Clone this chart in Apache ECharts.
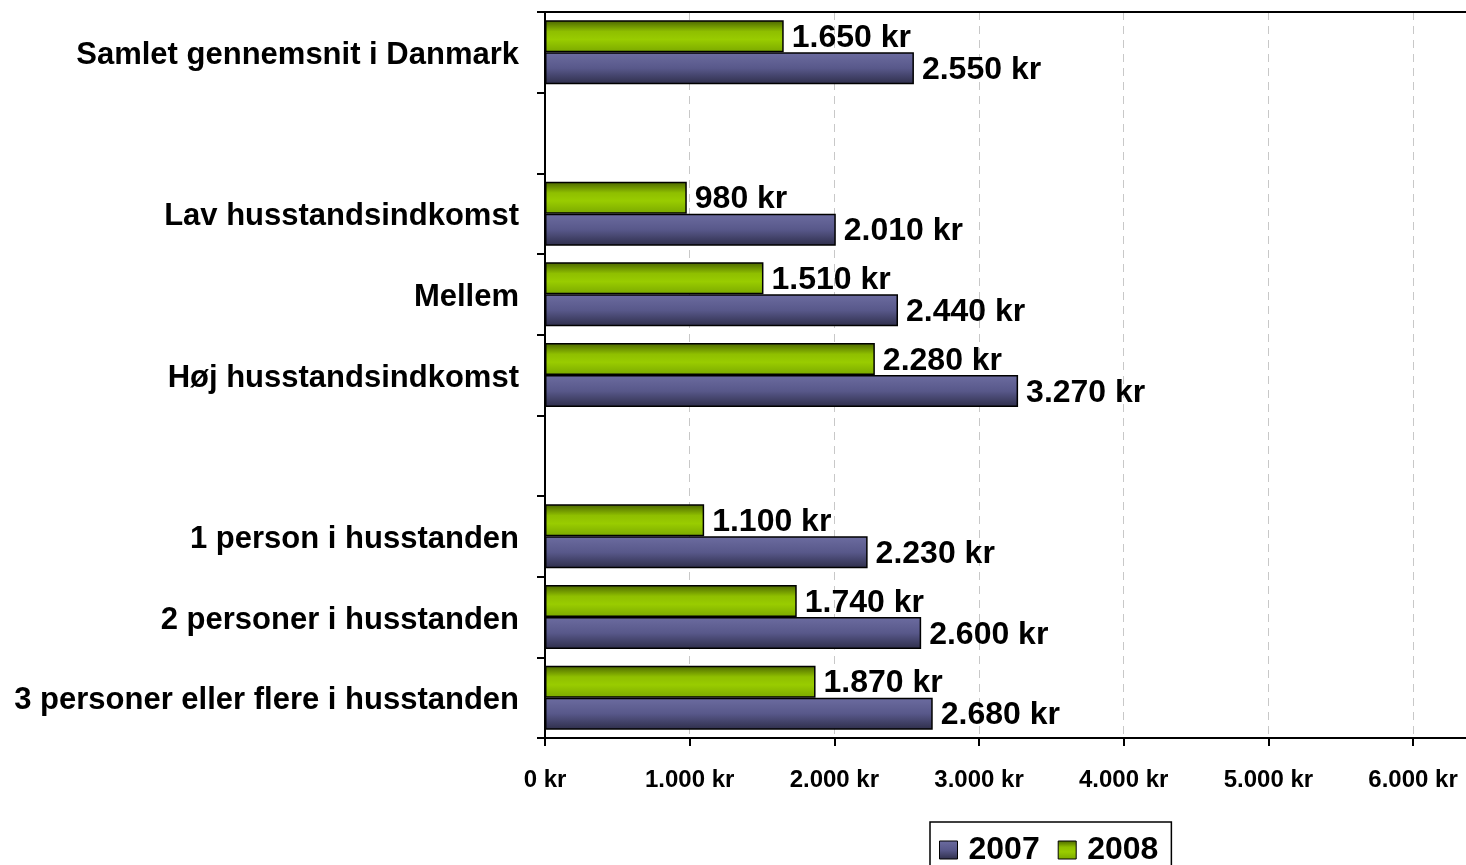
<!DOCTYPE html>
<html>
<head>
<meta charset="utf-8">
<script src="https://cdn.jsdelivr.net/npm/echarts@6/dist/echarts.min.js"></script>
<style>
html,body{margin:0;padding:0;background:#fff;}
#chart{width:1466px;height:865px;}
</style>
</head>
<body>
<div id="chart"></div>
<script>
const categories = [
  "Samlet gennemsnit i Danmark",
  "",
  "Lav husstandsindkomst",
  "Mellem",
  "Høj husstandsindkomst",
  " ",
  "1 person i husstanden",
  "2 personer i husstanden",
  "3 personer eller flere i husstanden"
];
const values2007 = [2550, null, 2010, 2440, 3270, null, 2230, 2600, 2680];
const values2008 = [1650, null, 980, 1510, 2280, null, 1100, 1740, 1870];
const seriesNames = ["2007", "2008"];
const xTicks = [0, 1000, 2000, 3000, 4000, 5000, 6000];

const FONT = "'Liberation Sans', Arial, sans-serif";
function fmt(v){
  return String(v).replace(/\B(?=(\d{3})+(?!\d))/g, '.') + ' kr';
}
const purpleGrad = new echarts.graphic.LinearGradient(0,0,0,1,[
  {offset:0, color:'#6c6ca0'},
  {offset:0.5, color:'#58588a'},
  {offset:1, color:'#2e2e4a'}
]);
const greenGrad = new echarts.graphic.LinearGradient(0,0,0,1,[
  {offset:0, color:'#4a6400'},
  {offset:0.35, color:'#8fbf00'},
  {offset:0.6, color:'#99cc00'},
  {offset:1, color:'#7aa800'}
]);
const labelCfg = {
  show:true, position:'right', distance:8, offset:[0,2],
  formatter: p => fmt(p.value),
  fontFamily:FONT, fontWeight:'bold', fontSize:32, color:'#000'
};

const chart = echarts.init(document.getElementById('chart'), null, {renderer:'canvas'});
chart.setOption({
  animation:false,
  backgroundColor:'#fff',
  grid:{left:545, right:0, top:12, bottom:127},
  legend:{
    data:seriesNames,
    left:930, top:822,
    orient:'horizontal',
    borderColor:'#000', borderWidth:1.5,
    padding:[12,13,30,9],
    itemWidth:18, itemHeight:18, itemGap:18,
    icon:'rect',
    textStyle:{fontFamily:FONT, fontWeight:'bold', fontSize:32, color:'#000', padding:[0,0,0,6]},
    itemStyle:{borderColor:'#000', borderWidth:1}
  },
  xAxis:[{
    type:'value', min:xTicks[0], max:6366, interval:xTicks[1]-xTicks[0],
    axisLine:{show:true, lineStyle:{color:'#000', width:2}},
    axisTick:{show:true, length:8, lineStyle:{color:'#000', width:2}},
    axisLabel:{formatter:v=>fmt(v), showMaxLabel:false, margin:30, fontFamily:FONT, fontWeight:'bold', fontSize:24, color:'#000'},
    splitLine:{show:true, lineStyle:{color:'#c8c8c8', type:[8,6], width:1}}
  },{
    type:'value', position:'top', min:xTicks[0], max:6366, interval:xTicks[1]-xTicks[0],
    axisLine:{show:true, lineStyle:{color:'#000', width:2}},
    axisTick:{show:false}, axisLabel:{show:false}, splitLine:{show:false}
  }],
  yAxis:{
    type:'category', data:categories, inverse:true,
    axisLine:{show:true, lineStyle:{color:'#000', width:2}},
    axisTick:{show:true, length:8, lineStyle:{color:'#000', width:2}},
    axisLabel:{margin:26, color:'#000',
      formatter: v => '{a|' + v + '}',
      rich:{a:{fontFamily:FONT, fontWeight:'bold', fontSize:31, color:'#000', padding:[6,0,0,0]}}}
  },
  series:[
    {name:seriesNames[1], type:'bar', data:values2008, barWidth:32, barGap:'0%',
     itemStyle:{color:greenGrad, borderColor:'#000', borderWidth:1.5}, label:labelCfg},
    {name:seriesNames[0], type:'bar', data:values2007, barWidth:32, barGap:'0%',
     itemStyle:{color:purpleGrad, borderColor:'#000', borderWidth:1.5}, label:labelCfg}
  ]
});
</script>
</body>
</html>
